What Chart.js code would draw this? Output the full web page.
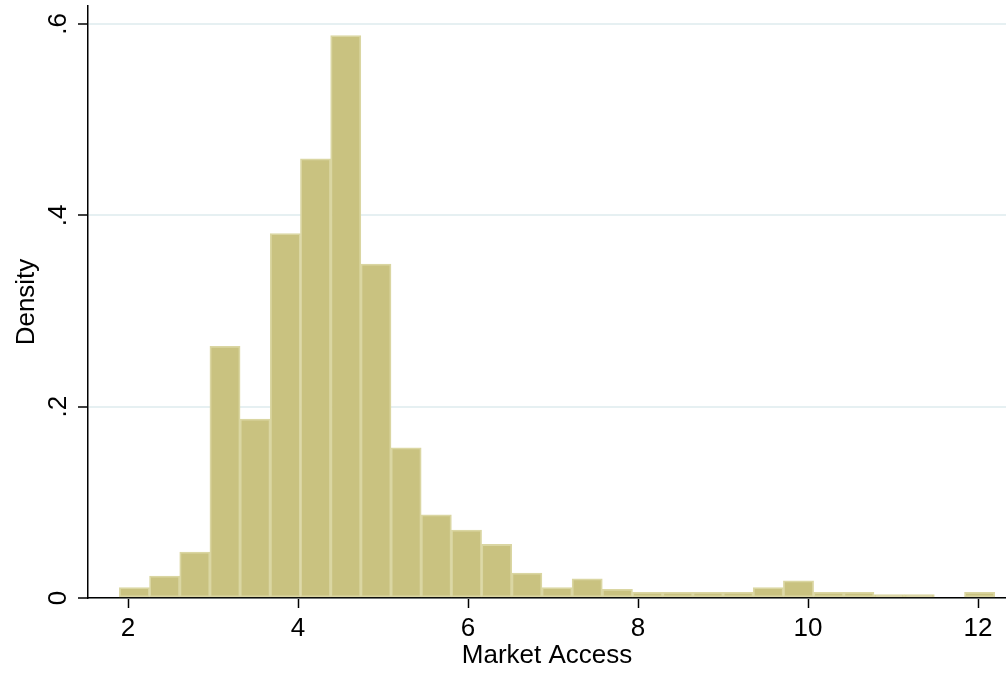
<!DOCTYPE html>
<html lang="en">
<head>
  <meta charset="UTF-8" />
  <title>Market Access histogram</title>
  <script src="https://cdn.jsdelivr.net/npm/chart.js"></script>
  <style>
    html, body { margin: 0; padding: 0; background: #fff; }
    .wrap { width: 1006px; height: 674px; position: relative; }
  </style>
</head>
<body>
  <div class="wrap">
    <canvas id="hist"></canvas>
  </div>

  <script>
    // histogram bins: first left edge, common width, density per bin
    const binStart = 1.898;
    const binWidth = 0.3551;
    const density = [
      0.011, 0.023, 0.048, 0.263, 0.187, 0.381, 0.459, 0.588, 0.349, 0.157,
      0.087, 0.071, 0.056, 0.026, 0.011, 0.020, 0.009, 0.006, 0.006, 0.006,
      0.006, 0.011, 0.018, 0.006, 0.006, 0.0035, 0.0035, 0, 0.006
    ];
    const xTicks = [2, 4, 6, 8, 10, 12];
    const yTicks = [0, 0.2, 0.4, 0.6];
    const xRange = [1.529, 12.329];
    const yRange = [0, 0.6188];

    const fontFamily = '"Liberation Sans", Arial, Helvetica, sans-serif';

    const bins = density.map((d, i) => ({ x: binStart + (i + 0.5) * binWidth, y: d }));

    function yLabel(v) {
      if (v === 0) return '0';
      return String(Math.round(v * 10) / 10).replace(/^0/, '');
    }

    new Chart(document.getElementById('hist'), {
      type: 'bar',
      data: {
        datasets: [{
          data: bins,
          backgroundColor: '#c9c280',
          borderColor: '#dad6a2',
          borderWidth: 1.8,
          borderSkipped: false,
          barPercentage: 1,
          categoryPercentage: 1
        }]
      },
      options: {
        responsive: true,
        maintainAspectRatio: false,
        animation: false,
        layout: { padding: { top: 6, left: 0, right: 0, bottom: 0 } },
        plugins: {
          legend: { display: false },
          tooltip: { enabled: false }
        },
        scales: {
          x: {
            type: 'linear',
            min: xRange[0],
            max: xRange[1],
            offset: false,
            z: 1,
            afterBuildTicks: s => { s.ticks = xTicks.map(v => ({ value: v })); },
            afterFit: s => { s.height = 76; s.paddingLeft = 0; s.paddingRight = 0; },
            grid: { offset: false, drawOnChartArea: false, tickLength: 10, tickColor: '#000', tickWidth: 1.5 },
            border: { color: '#000', width: 1.5 },
            ticks: {
              color: '#000',
              padding: 5,
              maxRotation: 0,
              autoSkip: false,
              font: { family: fontFamily, size: 26 },
              callback: v => String(v)
            },
            title: {
              display: true,
              text: 'Market Access',
              color: '#000',
              padding: { top: 0, bottom: 3 },
              font: { family: fontFamily, size: 26 }
            }
          },
          y: {
            min: yRange[0],
            max: yRange[1],
            afterBuildTicks: s => { s.ticks = yTicks.map(v => ({ value: v })); },
            afterFit: s => { s.width = 88; s.paddingTop = 0; s.paddingBottom = 0; },
            grid: { color: '#e6f0f2', lineWidth: 2, tickLength: 10, tickColor: '#000', tickWidth: 1.5 },
            border: { color: '#000', width: 1.5 },
            ticks: {
              color: '#000',
              padding: 8,
              minRotation: 90,
              maxRotation: 90,
              crossAlign: 'center',
              autoSkip: false,
              font: { family: fontFamily, size: 26 },
              callback: v => yLabel(v)
            },
            title: {
              display: true,
              text: 'Density',
              color: '#000',
              padding: { top: 11, bottom: 0 },
              font: { family: fontFamily, size: 26 }
            }
          }
        }
      }
    });
  </script>
</body>
</html>
